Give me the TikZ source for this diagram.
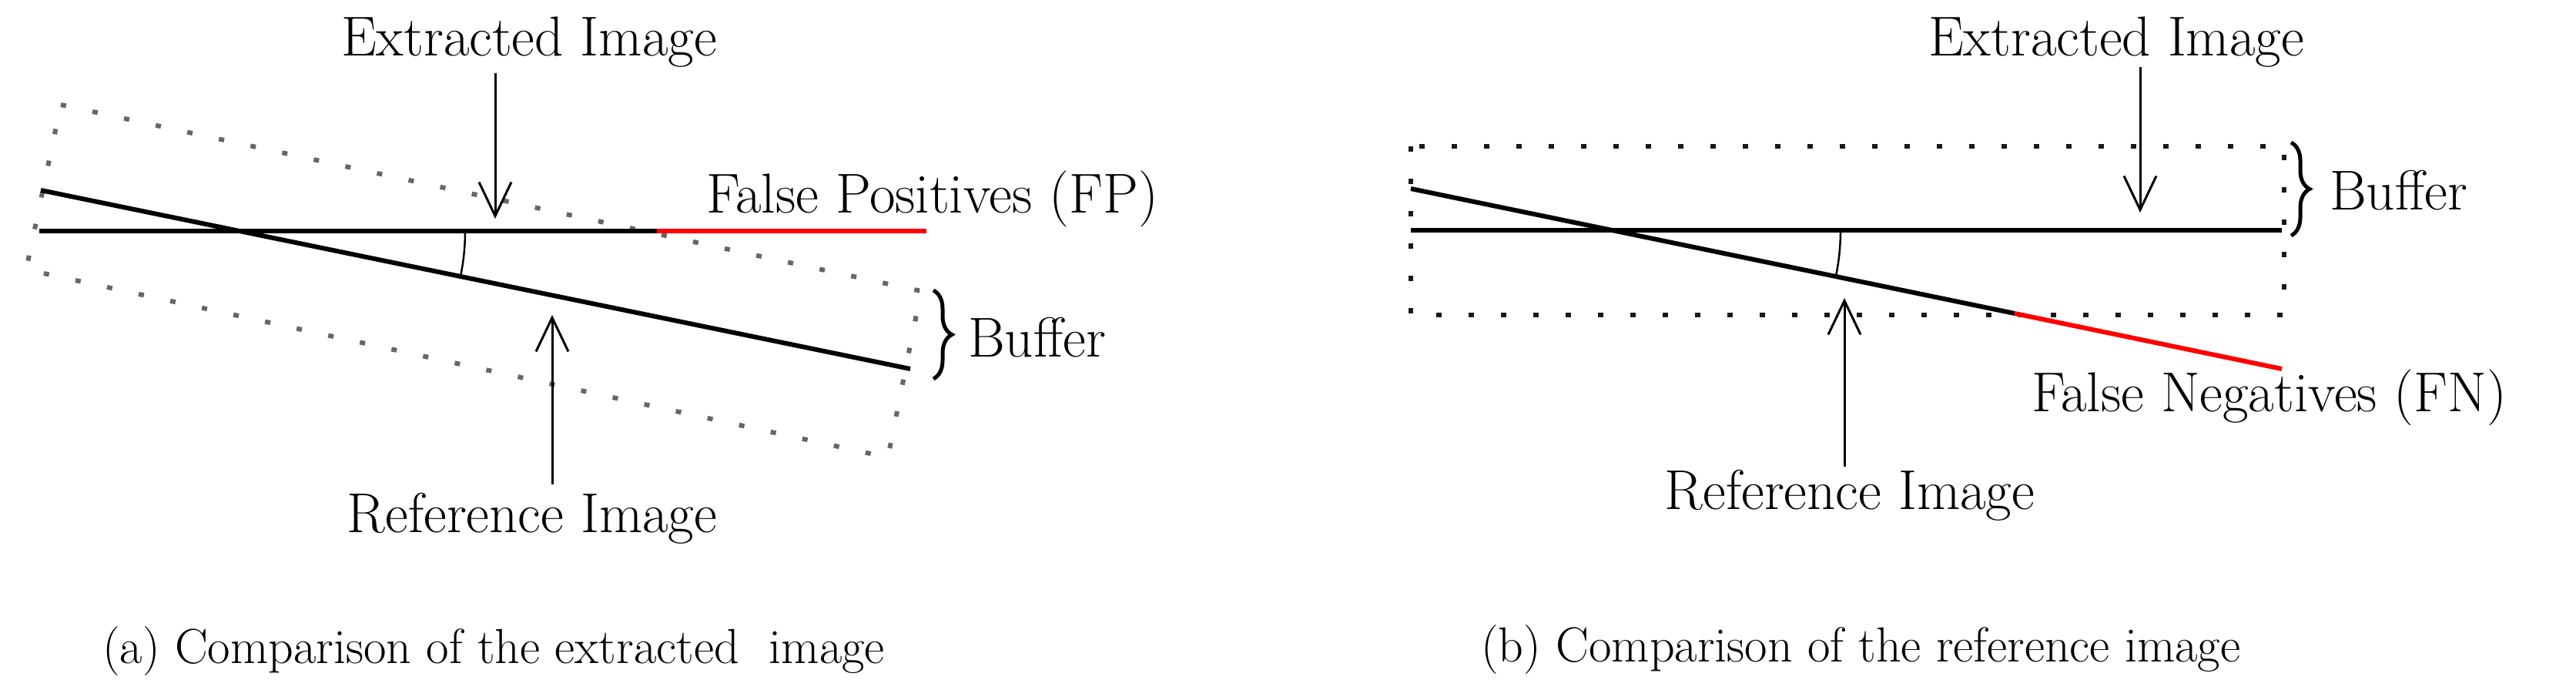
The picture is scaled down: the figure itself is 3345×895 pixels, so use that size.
\documentclass[tikz,border=0pt]{standalone}
\usepackage{fontspec}
\usetikzlibrary{arrows.meta,decorations.pathreplacing}
\tikzset{
  lbl/.style={inner sep=0pt, font=\fontsize{73}{80}\selectfont},
  capt/.style={inner sep=0pt, font=\fontsize{64}{70}\selectfont},
  thickline/.style={line width=6pt},
  bufbox/.style={line width=6pt, black!60, dash pattern=on 7pt off 35pt},
  ptr/.style={line width=3pt, -{Straight Barb[length=44pt,width=42pt]}},
  anglearc/.style={line width=2.5pt},
  bufbrace/.style={line width=5pt, decorate, decoration={brace, amplitude=24pt}}
}
\begin{document}
\begin{tikzpicture}[x=1pt,y=-1pt]
\useasboundingbox (0,0) rectangle (3345,895);
\fill[white] (0,0) rectangle (3345,895);

% ---------- panel (a) ----------
\coordinate (aRTL) at (79,136);
\coordinate (aRTR) at (1196,378);
\coordinate (aRBR) at (1153,594);
\coordinate (aRBL) at (34,350);
\draw[bufbox] (aRTL) -- (aRTR) -- (aRBR) -- (aRBL) -- cycle;

\coordinate (aHs) at (51,300);
\coordinate (aHm) at (853,300);
\coordinate (aHe) at (1203,300);
\draw[thickline] (aHs) -- (aHm);
\draw[thickline, red] (aHm) -- (aHe);

\coordinate (aSs) at (53,247);
\coordinate (aSe) at (1182,479);
\draw[thickline] (aSs) -- (aSe);

\coordinate (aArc) at (604,300);
\draw[anglearc] (aArc) arc[start angle=0, end angle=-11.6, radius=293pt];

\node[lbl, anchor=base] (aExt) at (687,72) {Extracted Image};
\coordinate (aDownS) at (643,95);
\coordinate (aDownE) at (643,284);
\draw[ptr] (aDownS) -- (aDownE);

\node[lbl, anchor=base west] (aFP) at (917,276) {False Positives (FP)};

\draw[bufbrace] (1212,377) -- (1212,492) coordinate (aBrEnd);
\node[lbl, anchor=base west] (aBuf) at (1257,463) {Buffer};

\node[lbl, anchor=base] (aRef) at (691,691) {Reference Image};
\coordinate (aUpS) at (717,629);
\coordinate (aUpE) at (717,409);
\draw[ptr] (aUpS) -- (aUpE);

\node[capt, anchor=base west] (aCap) at (133,861) {(a) Comparison of the extracted\ \ image};

% ---------- panel (b) ----------
\coordinate (bRTL) at (1832,190);
\coordinate (bRBR) at (2966,409);
\draw[bufbox, black!90] (bRTL) rectangle (bRBR);

\coordinate (bHs) at (1832,299);
\coordinate (bHe) at (2963,299);
\draw[thickline] (bHs) -- (bHe);

\coordinate (bSs) at (1832,245);
\coordinate (bSm) at (2616,407);
\coordinate (bSe) at (2963,479);
\draw[thickline] (bSs) -- (bSm);
\draw[thickline, red] (bSm) -- (bSe);

\coordinate (bArc) at (2390,299);
\draw[anglearc] (bArc) arc[start angle=0, end angle=-11.7, radius=297pt];

\node[lbl, anchor=base] (bExt) at (2748,72) {Extracted Image};
\coordinate (bDownS) at (2779,87);
\coordinate (bDownE) at (2779,276);
\draw[ptr] (bDownS) -- (bDownE);

\draw[bufbrace] (2975,185) -- (2975,306);
\node[lbl, anchor=base west] (bBuf) at (3025,272) {Buffer};

\node[lbl, anchor=base west] (bFN) at (2638,534) {False Negatives (FN)};

\node[lbl, anchor=base] (bRef) at (2402,661) {Reference Image};
\coordinate (bUpS) at (2395,606);
\coordinate (bUpE) at (2395,387);
\draw[ptr] (bUpS) -- (bUpE);

\node[capt, anchor=base west] (bCap) at (1923,859) {(b) Comparison of the reference image};
\end{tikzpicture}
\end{document}
